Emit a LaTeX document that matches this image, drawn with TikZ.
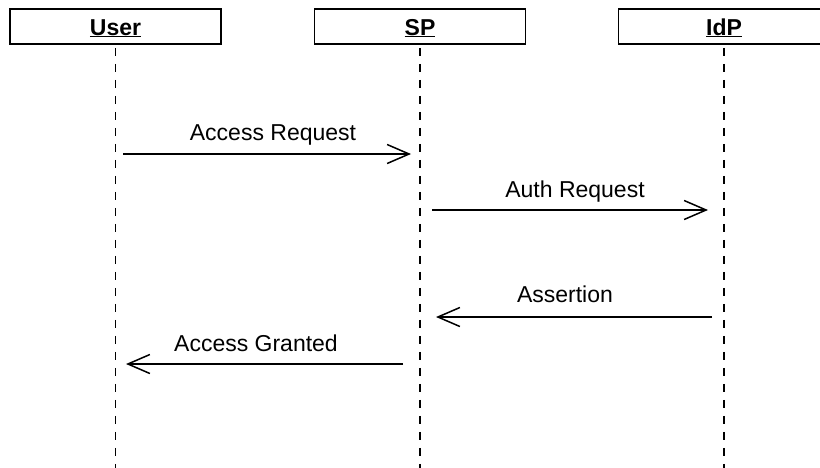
\documentclass[tikz,border=0pt]{standalone}
\usepackage{fontspec}
\setmainfont{Liberation Sans}
\usetikzlibrary{arrows.meta}
\begin{document}
\begin{tikzpicture}[x=1pt,y=-1pt,
  font=\fontsize{23}{27}\selectfont,
  actor/.style={draw, line width=1.5pt, minimum width=211pt, minimum height=35pt, inner sep=0pt, text height=17pt, text depth=0pt, font=\fontsize{23}{27}\selectfont\bfseries},
  lifeline/.style={line width=1.3pt, dash pattern=on 8pt off 8pt},
  msg/.style={line width=1.5pt, -{Straight Barb[length=22pt,width=19pt,line width=1.5pt]}},
  lbl/.style={anchor=base, inner sep=0pt}]
\clip (0,0) rectangle (820,467);
\node[actor] (u) at (115.5,26.5) {\underline{User}};
\node[actor] (s) at (420,26.5) {\underline{SP}};
\node[actor] (i) at (724,26.5) {\underline{IdP}};
\coordinate (ue) at (115.5,470);
\coordinate (se) at (420,470);
\coordinate (ie) at (724,470);
\draw[lifeline] (u.south) ++(0,3) -- (ue);
\draw[lifeline] (s.south) ++(0,3) -- (se);
\draw[lifeline] (i.south) ++(0,3) -- (ie);
% message end points
\coordinate (a1) at (123,154);
\coordinate (a2) at (411,154);
\coordinate (b1) at (432,210);
\coordinate (b2) at (708,210);
\coordinate (c1) at (712,317);
\coordinate (c2) at (436,317);
\coordinate (d1) at (403,364);
\coordinate (d2) at (126,364);
\draw[msg] (a1) -- (a2);
\draw[msg] (b1) -- (b2);
\draw[msg] (c1) -- (c2);
\draw[msg] (d1) -- (d2);
\node[lbl] (la) at (273,140) {Access Request};
\node[lbl] (lb) at (575,197) {Auth Request};
\node[lbl] (lc) at (565,302) {Assertion};
\node[lbl] (ld) at (256,351) {Access Granted};
\end{tikzpicture}
\end{document}
